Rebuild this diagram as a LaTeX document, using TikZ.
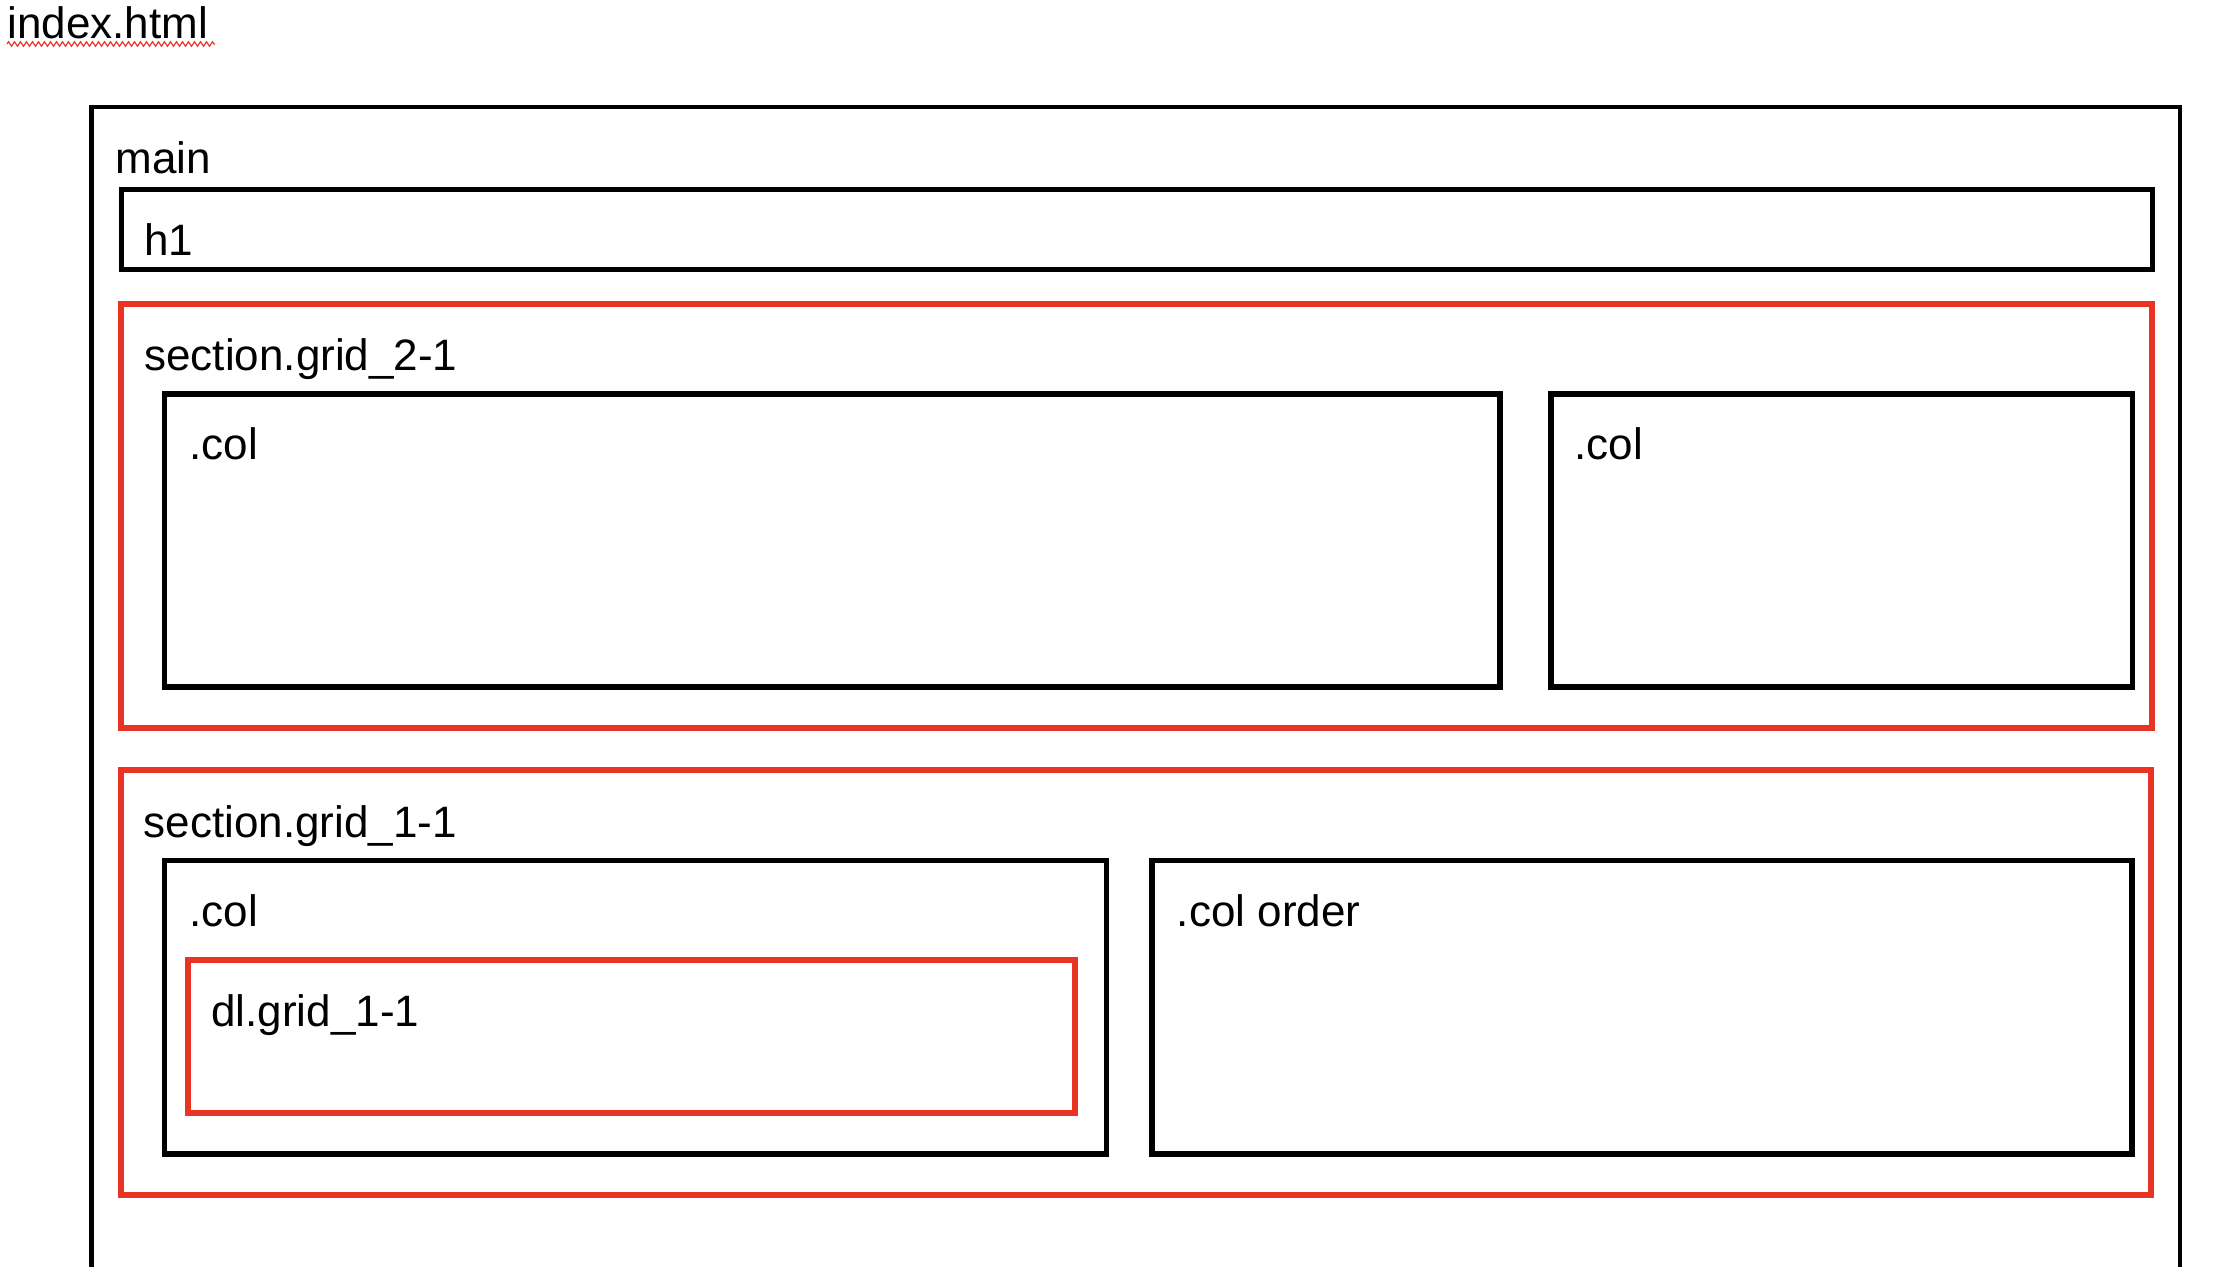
\documentclass[tikz,border=0pt]{standalone}
\usepackage{fontspec}
\setmainfont{Liberation Sans}
\usetikzlibrary{decorations.pathmorphing}
\definecolor{boxred}{RGB}{234,51,35}
\begin{document}
\begin{tikzpicture}[x=0.5pt,y=-0.5pt,
  outerbox/.style={draw=black,line width=2.3pt},
  blackbox/.style={draw=black,line width=2.9pt},
  h1box/.style={draw=black,line width=2.5pt},
  redbox/.style={draw=boxred,line width=3pt},
  lbl/.style={anchor=base west,inner sep=0pt,font=\fontsize{22pt}{26pt}\selectfont}]
\path[use as bounding box] (0,0) rectangle (2214,1266);
\clip (0,0) rectangle (2214,1266);
% title
\node[lbl] (title) at (7,38) {index.html};
\draw[boxred,line width=0.6pt,decorate,decoration={zigzag,amplitude=1.1pt,segment length=3pt}] (7,44) -- (215,44);
% main container
\draw[outerbox] (91.5,1280) -- (91.5,107) -- (2180,107) -- (2180,1280);
\node[lbl] (main) at (115,173) {main};
% h1
\draw[h1box] (121,189.5) rectangle (2152.5,269.5);
\node[lbl] (h1) at (144,255) {h1};
% section grid 2-1
\draw[redbox] (121,304) rectangle (2152,728);
\node[lbl] (sec21) at (144,370) {section.grid\_2-1};
\draw[blackbox] (164.5,394) rectangle (1500,687);
\node[lbl] (colA) at (189,459) {.col};
\draw[blackbox] (1551,394) rectangle (2132.5,687);
\node[lbl] (colB) at (1574,459) {.col};
% section grid 1-1
\draw[redbox] (120.5,770) rectangle (2151,1195);
\node[lbl] (sec11) at (143.5,837) {section.grid\_1-1};
\draw[blackbox] (164.5,860.5) rectangle (1106.5,1154);
\node[lbl] (colC) at (189,926.5) {.col};
\draw[redbox] (187.5,959.5) rectangle (1075,1112.5);
\node[lbl] (dl) at (211,1026) {dl.grid\_1-1};
\draw[blackbox] (1152,860.5) rectangle (2132,1154);
\node[lbl] (colD) at (1176.5,926.5) {.col order};
\end{tikzpicture}
\end{document}
